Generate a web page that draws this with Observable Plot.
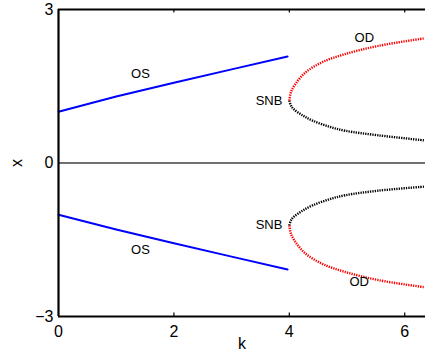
<!DOCTYPE html>
<html>
<head>
<meta charset="utf-8">
<script src="https://cdn.jsdelivr.net/npm/d3@7"></script>
<script src="https://cdn.jsdelivr.net/npm/@observablehq/plot@0.6"></script>
<style>
  html, body { margin: 0; padding: 0; background: white; }
</style>
</head>
<body>
<div id="chart"></div>
<script>
// Upper and lower OS branches (blue)
const kOS = [0, 1, 2, 3, 3.97];
const xOSup = [1.00, 1.30, 1.57, 1.83, 2.08];
const xOSlo = [-1.01, -1.30, -1.57, -1.83, -2.08];

// OD branches (red), starting at SNB
const kOD = [4.0, 4.03, 4.11, 4.28, 4.57, 4.97, 5.55, 6.36];
const xODup = [1.22, 1.39, 1.55, 1.77, 1.97, 2.13, 2.29, 2.44];
const xODlo = [-1.22, -1.39, -1.55, -1.77, -1.97, -2.13, -2.29, -2.43];

// Unstable branches (black), starting at SNB
const kUN = [4.0, 4.03, 4.08, 4.23, 4.40, 4.69, 4.97, 5.55, 6.36];
const xUNup = [1.22, 1.12, 1.05, 0.93, 0.83, 0.71, 0.63, 0.54, 0.44];
const xUNlo = [-1.22, -1.12, -1.05, -0.93, -0.83, -0.71, -0.63, -0.54, -0.46];

const xTicks = [0, 2, 4, 6];
const yTicks = [-3, 0, 3];

const branchLabels = [
  {k: 1.42, x: 1.75, t: "OS"},
  {k: 1.42, x: -1.70, t: "OS"},
  {k: 5.30, x: 2.44, t: "OD"},
  {k: 5.21, x: -2.32, t: "OD"}
];
const snbLabels = [
  {k: 3.88, x: 1.22, t: "SNB"},
  {k: 3.88, x: -1.21, t: "SNB"}
];

const zip = (ks, xs) => ks.map((k, i) => ({k, x: xs[i]}));
const dotted = {x: "k", y: "x", strokeWidth: 2.4, strokeDasharray: "1.3,1.1", strokeLinecap: "butt", curve: "catmull-rom"};

const chart = Plot.plot({
  width: 425,
  height: 354,
  marginLeft: 58,
  marginRight: 0,
  marginTop: 9,
  marginBottom: 38,
  x: {domain: [0, 6.36]},
  y: {domain: [-3, 3]},
  style: {fontFamily: "'Liberation Sans', Arial, sans-serif", fontSize: "16px", background: "white", overflow: "visible"},
  marks: [
    Plot.ruleY([0], {stroke: "#404040", strokeWidth: 1.6}),
    Plot.line(zip(kOS, xOSup), {x: "k", y: "x", stroke: "#0000ff", strokeWidth: 2}),
    Plot.line(zip(kOS, xOSlo), {x: "k", y: "x", stroke: "#0000ff", strokeWidth: 2}),
    Plot.line(zip(kUN, xUNup), {...dotted, stroke: "black"}),
    Plot.line(zip(kUN, xUNlo), {...dotted, stroke: "black"}),
    Plot.line(zip(kOD, xODup), {...dotted, stroke: "#ff0000"}),
    Plot.line(zip(kOD, xODlo), {...dotted, stroke: "#ff0000"}),
    Plot.text(branchLabels, {x: "k", y: "x", text: "t", textAnchor: "middle", fontSize: 13, fill: "black"}),
    Plot.text(snbLabels, {x: "k", y: "x", text: "t", textAnchor: "end", fontSize: 13, fill: "black"}),
    // inward ticks
    Plot.ruleX(xTicks.filter(d => d > 0), {y1: -3, y2: -2.93, stroke: "black", strokeWidth: 1.2}),
    Plot.ruleX(xTicks.filter(d => d > 0), {y1: 3, y2: 2.93, stroke: "black", strokeWidth: 1.2}),
    // frame
    Plot.ruleX([0], {stroke: "black", strokeWidth: 2.2}),
    Plot.ruleY([-3, 3], {stroke: "black", strokeWidth: 2.2}),
    Plot.axisX({ticks: xTicks, tickSize: 0, tickPadding: 9, fontSize: 16, tickFormat: d3.format(""), label: "k", labelAnchor: "center", labelArrow: "none", labelOffset: 32}),
    Plot.axisY({ticks: yTicks, tickSize: 0, tickPadding: 5, fontSize: 16, tickFormat: d3.format(""), label: "x", labelAnchor: "center", labelArrow: "none", labelOffset: 48})
  ]
});
document.getElementById("chart").appendChild(chart);
</script>
</body>
</html>
